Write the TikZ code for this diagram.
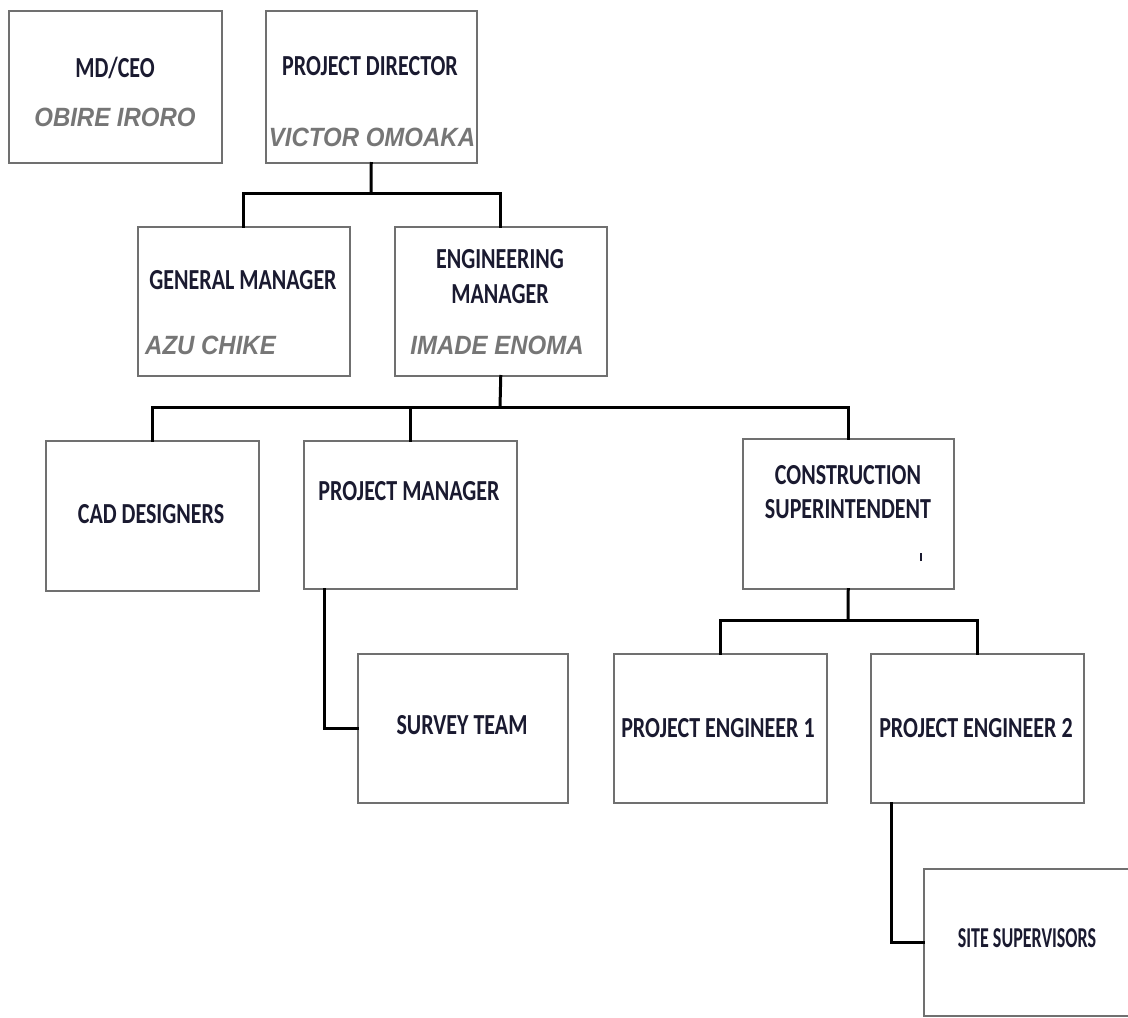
\documentclass[tikz,border=0pt]{standalone}
\usepackage{fontspec}
\setmainfont{Carlito}
\newfontfamily\namefont{Liberation Sans}
\definecolor{boxline}{HTML}{707070}
\definecolor{txt}{HTML}{1A1A30}
\definecolor{namegray}{HTML}{767676}
\newcommand{\vstretch}[1]{\scalebox{1}[1.32]{#1}}
\newcommand{\vstretchb}[1]{\scalebox{1}[1.6]{#1}}
\tikzset{
  box/.style={draw=boxline, line width=1.5pt, rectangle, anchor=north west, inner sep=0pt, fill=white},
  title/.style={text=txt, font=\bfseries\fontsize{22}{34}\selectfont, inner sep=0pt, align=center},
  pname/.style={text=namegray, font=\namefont\bfseries\itshape\fontsize{24}{28}\selectfont, inner sep=0pt},
  conn/.style={draw=black, line width=3pt, line cap=rect}
}
\begin{document}
\begin{tikzpicture}[x=1pt,y=-1pt]
\useasboundingbox[fill=white] (0,0) rectangle (1128,1018);
\coordinate (a1) at (371,193);
\coordinate (a2) at (500,407);
\coordinate (a3) at (848,620);
% boxes
\node[box, minimum width=213pt, minimum height=152pt] (md) at (8,10) {};
\node[box, minimum width=211pt, minimum height=152pt] (pd) at (265,10) {};
\node[box, minimum width=212pt, minimum height=149pt] (gm) at (137,226) {};
\node[box, minimum width=212pt, minimum height=149pt] (em) at (394,226) {};
\node[box, minimum width=213pt, minimum height=150pt] (cad) at (45,440) {};
\node[box, minimum width=213pt, minimum height=148pt] (pm) at (303,440) {};
\node[box, minimum width=211pt, minimum height=150pt] (cs) at (742,438) {};
\node[box, minimum width=210pt, minimum height=149pt] (st) at (357,653) {};
\node[box, minimum width=213pt, minimum height=149pt] (pe1) at (613,653) {};
\node[box, minimum width=213pt, minimum height=149pt] (pe2) at (870,653) {};
\node[box, minimum width=215pt, minimum height=147pt] (ss) at (923,868) {};
% connector lines
\draw[conn] (pd.south) -- (a1);
\draw[conn] (gm.north) |- (a1) -| (em.north);
\draw[conn] (em.south) -- (a2);
\draw[conn] (cad.north) |- (a2) -| (cs.north);
\draw[conn] (pm.north) -- (pm.north |- a2);
\draw[conn] (cs.south) -- (a3);
\draw[conn] (pe1.north) |- (a3) -| (pe2.north);
\draw[conn] (pm.south -| 324,0) |- (st.west);
\draw[conn] (pe2.south -| 891,0) |- (ss.west);
% texts
\node[title] (t1) at (115,68) {\vstretch{MD/CEO}};
\node[pname] (n1) at (115,117) {\scalebox{1}[1.1]{OBIRE IRORO}};
\node[title] (t2) at (370,66) {\vstretch{PROJECT DIRECTOR}};
\node[pname] (n2) at (372,137) {\scalebox{1}[1.1]{VICTOR OMOAKA}};
\node[title] (t3) at (243,280) {\vstretch{GENERAL MANAGER}};
\node[pname, anchor=west] (n3) at (145,345) {\scalebox{1}[1.1]{AZU CHIKE}};
\node[title] (t4a) at (500,259) {\vstretch{ENGINEERING}};
\node[title] (t4b) at (500,294) {\vstretch{MANAGER}};
\node[pname] (n4) at (497,345) {\scalebox{1}[1.1]{IMADE ENOMA}};
\node[title] (t5) at (151,514) {\vstretch{CAD DESIGNERS}};
\node[title] (t6) at (409,491) {\vstretch{PROJECT MANAGER}};
\node[title] (t7a) at (848,475) {\vstretch{CONSTRUCTION}};
\node[title] (t7b) at (848,509) {\vstretch{SUPERINTENDENT}};
\node[text=txt, inner sep=0pt] (tk) at (921,557) {\rule{1.4pt}{8pt}};
\node[title] (t8) at (462,725) {\vstretch{SURVEY TEAM}};
\node[title] (t9) at (718,728) {\vstretch{PROJECT ENGINEER 1}};
\node[title] (t10) at (976,728) {\vstretch{PROJECT ENGINEER 2}};
\node[title, font=\bfseries\fontsize{18}{20}\selectfont] (t11) at (1027,938) {\vstretchb{SITE SUPERVISORS}};
\end{tikzpicture}
\end{document}
